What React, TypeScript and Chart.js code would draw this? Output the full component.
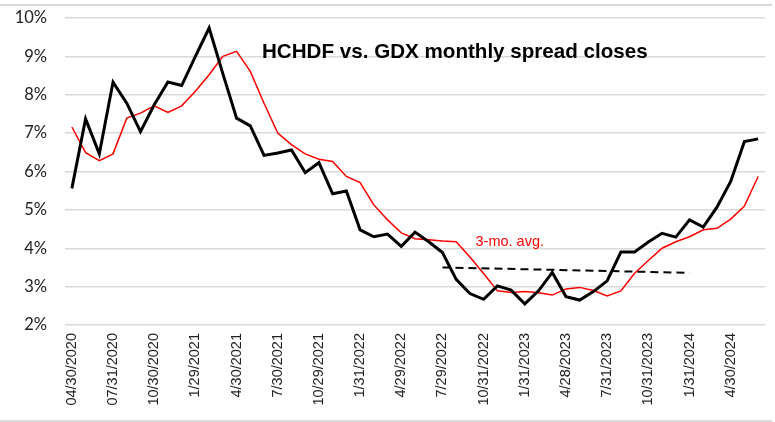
import React, { useEffect, useRef } from "react";
import { Chart, registerables } from "chart.js";

Chart.register(...registerables);

const categories: string[] = [
  "04/30/2020", "05/29/2020", "06/30/2020", "07/31/2020", "08/31/2020", "09/30/2020",
  "10/30/2020", "11/30/2020", "12/31/2020", "1/29/2021", "2/26/2021", "3/31/2021",
  "4/30/2021", "5/28/2021", "6/30/2021", "7/30/2021", "8/31/2021", "9/30/2021",
  "10/29/2021", "11/30/2021", "12/31/2021", "1/31/2022", "2/28/2022", "3/31/2022",
  "4/29/2022", "5/31/2022", "6/30/2022", "7/29/2022", "8/31/2022", "9/30/2022",
  "10/31/2022", "11/30/2022", "12/30/2022", "1/31/2023", "2/28/2023", "3/31/2023",
  "4/28/2023", "5/31/2023", "6/30/2023", "7/31/2023", "8/31/2023", "9/29/2023",
  "10/31/2023", "11/30/2023", "12/29/2023", "1/31/2024", "2/29/2024", "3/28/2024",
  "4/30/2024", "5/31/2024", "6/28/2024",
];

// Monthly spread closes (%)
const spreadCloses: number[] = [
  5.56, 7.37, 6.46, 8.33, 7.78, 7.04, 7.74, 8.33, 8.24, 9.0,
  9.74, 8.55, 7.39, 7.19, 6.42, 6.48, 6.56, 5.97, 6.23, 5.42,
  5.49, 4.48, 4.30, 4.37, 4.05, 4.42, 4.17, 3.89, 3.19, 2.82,
  2.67, 3.02, 2.91, 2.55, 2.89, 3.37, 2.74, 2.65, 2.87, 3.15,
  3.90, 3.90, 4.16, 4.39, 4.29, 4.74, 4.55, 5.07, 5.74, 6.78,
  6.85,
];

// 3-month average (%)
const threeMoAvg: number[] = [
  7.16, 6.49, 6.28, 6.46, 7.39, 7.52, 7.71, 7.54, 7.71, 8.09,
  8.52, 9.0, 9.13, 8.61, 7.78, 7.0, 6.70, 6.46, 6.32, 6.26,
  5.87, 5.71, 5.13, 4.74, 4.40, 4.25, 4.22, 4.19, 4.17, 3.77,
  3.34, 2.89, 2.85, 2.87, 2.84, 2.78, 2.94, 2.98, 2.90, 2.76,
  2.89, 3.35, 3.68, 4.0, 4.17, 4.30, 4.48, 4.52, 4.76, 5.10,
  5.87,
];

// Dashed trend line: start/end category and values (%)
const trendCategories: string[] = ["7/29/2022", "1/31/2024"];
const trendValues: number[] = [3.5, 3.36];

const yTicks: number[] = [2, 3, 4, 5, 6, 7, 8, 9, 10];

const titleText = "HCHDF vs. GDX monthly spread closes";
const avgLabelText = "3-mo. avg.";

const trendData = categories.map((c) => {
  const k = trendCategories.indexOf(c);
  return k >= 0 ? trendValues[k] : null;
});

const overlayPlugin = {
  id: "overlay",
  beforeDraw(chart: any) {
    const ctx = chart.ctx;
    ctx.save();
    ctx.fillStyle = "#d9d9d9";
    ctx.fillRect(0, 4, 772, 2);
    ctx.fillRect(0, 420, 772, 2);
    ctx.restore();
  },
  afterDatasetsDraw(chart: any) {
    const ctx = chart.ctx;
    const area = chart.chartArea;
    const ys = chart.scales.y;
    ctx.save();
    ctx.fillStyle = "#000000";
    ctx.font = 'bold 20.6px "Liberation Sans", Arial, sans-serif';
    ctx.textAlign = "left";
    ctx.textBaseline = "alphabetic";
    ctx.fillText(titleText, area.left + 197, area.top + 40);
    ctx.fillStyle = "#ff0000";
    ctx.font = '14.5px "Liberation Sans", Arial, sans-serif';
    ctx.fillText(avgLabelText, area.left + 410.5, ys.getPixelForValue(4.05));
    ctx.restore();
  },
};

export default function App() {
  const ref = useRef<HTMLCanvasElement | null>(null);

  useEffect(() => {
    if (!ref.current) return;
    const chart = new Chart(ref.current, {
      type: "line",
      data: {
        labels: categories,
        datasets: [
          {
            label: "Spread close",
            data: spreadCloses,
            borderColor: "#000000",
            borderWidth: 3,
            pointRadius: 0,
            tension: 0,
            fill: false,
          },
          {
            label: "Trend",
            data: trendData,
            borderColor: "#000000",
            borderWidth: 2,
            borderDash: [8, 5],
            pointRadius: 0,
            spanGaps: true,
            tension: 0,
            fill: false,
          },
          {
            label: "3-mo. avg.",
            data: threeMoAvg,
            borderColor: "#ff0000",
            borderWidth: 1.5,
            pointRadius: 0,
            tension: 0,
            fill: false,
          },
        ],
      },
      options: {
        responsive: false,
        animation: false,
        events: [],
        layout: { padding: { left: 0, right: 10, top: 18, bottom: 0 } },
        plugins: {
          legend: { display: false },
          title: { display: false },
          tooltip: { enabled: false },
        },
        scales: {
          x: {
            type: "category",
            offset: true,
            grid: { display: false, drawTicks: false },
            border: { display: false },
            ticks: {
              autoSkip: false,
              minRotation: 90,
              maxRotation: 90,
              padding: 8,
              color: "#222222",
              font: { family: '"Liberation Sans", Arial, sans-serif', size: 14.5 },
              callback: (_v: any, i: number) => (i % 3 === 0 ? categories[i] : ""),
            },
            afterFit: (s: any) => {
              s.height = 97;
              s.paddingLeft = 0;
              s.paddingRight = 0;
            },
          },
          y: {
            min: 2,
            max: 10,
            afterBuildTicks: (s: any) => {
              s.ticks = yTicks.map((v) => ({ value: v }));
            },
            grid: { color: "#d9d9d9", lineWidth: 1.5, drawTicks: false },
            border: { display: false },
            ticks: {
              padding: 18,
              color: "#222222",
              font: { family: "Lato, sans-serif", size: 16.5 },
              callback: (v: any) => `${v}%`,
            },
            afterFit: (s: any) => {
              s.width = 65;
              s.paddingTop = 0;
              s.paddingBottom = 0;
            },
          },
        },
      },
      plugins: [overlayPlugin],
    });
    return () => chart.destroy();
  }, []);

  return (
    <div style={{ position: "fixed", left: 0, top: 0, width: 775, height: 422, background: "#ffffff" }}>
      <canvas ref={ref} width={775} height={422} style={{ display: "block" }} />
    </div>
  );
}
